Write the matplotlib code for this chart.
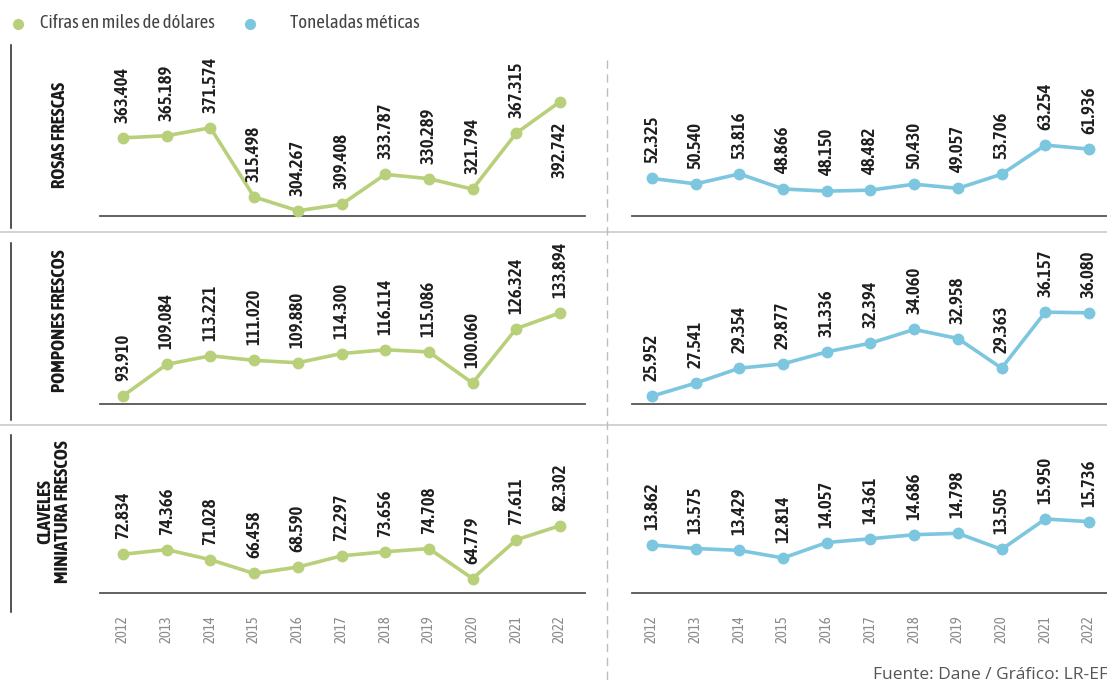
import matplotlib
matplotlib.use("Agg")
import matplotlib.pyplot as plt
from matplotlib.lines import Line2D

# ---- data -------------------------------------------------------------
years = list(range(2012, 2023))

rosas_usd = [363.404, 365.189, 371.574, 315.498, 304.267, 309.408,
             333.787, 330.289, 321.794, 367.315, 392.742]
rosas_ton = [52.325, 50.540, 53.816, 48.866, 48.150, 48.482,
             50.430, 49.057, 53.706, 63.254, 61.936]

pompones_usd = [93.910, 109.084, 113.221, 111.020, 109.880, 114.300,
                116.114, 115.086, 100.060, 126.324, 133.894]
pompones_ton = [25.952, 27.541, 29.354, 29.877, 31.336, 32.394,
                34.060, 32.958, 29.363, 36.157, 36.080]

claveles_usd = [72.834, 74.366, 71.028, 66.458, 68.590, 72.297,
                73.656, 74.708, 64.779, 77.611, 82.302]
claveles_ton = [13.862, 13.575, 13.429, 12.814, 14.057, 14.361,
                14.686, 14.798, 13.505, 15.950, 15.736]

row_names = ["ROSAS FRESCAS", "POMPONES FRESCOS", "CLAVELES\nMINIATURA FRESCOS"]
legend_labels = ["Cifras en miles de dólares", "Toneladas méticas"]
source_text = "Fuente: Dane / Gráfico: LR-EF"

# ---- style ------------------------------------------------------------
GREEN = "#b8d07a"
BLUE = "#7cc6df"
NARROW = ["Asap Condensed", "Archivo Narrow", "DejaVu Sans"]
W, H = 1107, 683

fig = plt.figure(figsize=(W / 100, H / 100), dpi=100)
fig.patch.set_facecolor("white")


def rect(x0, y0, x1, y1):
    """Pixel box (top-left origin) -> figure-fraction rectangle."""
    return [x0 / W, 1 - y1 / H, (x1 - x0) / W, (y1 - y0) / H]


def fig_line(xs, ys, **kw):
    fig.add_artist(Line2D([x / W for x in xs], [1 - y / H for y in ys],
                          transform=fig.transFigure, **kw))


# panel layout: top pixel, baseline pixel, (ymin, px per unit) per column
rows = [
    (40, 216, (300, 1.232), (40, 3.05)),
    (238, 404, (90, 2.076), (25, 8.23)),
    (430, 593, (60, 3.02), (10, 12.44)),
]
series = [(rosas_usd, rosas_ton), (pompones_usd, pompones_ton),
          (claveles_usd, claveles_ton)]
label_centers = [(60, 135), (60, 321), (54, 512)]
# labels drawn beneath their point instead of above: (row, column, index)
below = {(0, 0, 10)}

columns = [
    # x0, x1, x of 2012, x of 2022, colour
    (100, 585, 123, 560, GREEN),
    (632, 1107, 652, 1089, BLUE),
]

for r, (top, base, lim_l, lim_r) in enumerate(rows):
    for c, (x0, x1, xa, xb, color) in enumerate(columns):
        ax = fig.add_axes(rect(x0, top, x1, base))
        step = (xb - xa) / (years[-1] - years[0])
        ax.set_xlim(years[0] - (xa - x0) / step, years[-1] + (x1 - xb) / step)
        ymin, ppu = (lim_l, lim_r)[c]
        ax.set_ylim(ymin, ymin + (base - top) / ppu)
        vals = series[r][c]
        ax.plot(years, vals, color=color, lw=2.6, marker="o", ms=7.5,
                solid_capstyle="round", clip_on=False, zorder=3)
        for i, (yr, v) in enumerate(zip(years, vals)):
            if (r, c, i) in below:
                off, va = -20, "top"
            else:
                off, va = 15, "bottom"
            ax.annotate(f"{v:.3f}", (yr, v), xytext=(0, off),
                        textcoords="offset pixels", rotation=90,
                        ha="center", va=va, fontsize=13.5,
                        fontweight="semibold", family=NARROW,
                        color="#1e1e1e", annotation_clip=False)
        for s in ("top", "right", "left"):
            ax.spines[s].set_visible(False)
        ax.spines["bottom"].set_color("#555555")
        ax.spines["bottom"].set_linewidth(1.3)
        ax.set_yticks([])
        ax.patch.set_alpha(0)
        if r == len(rows) - 1:
            ax.set_xticks(years)
            ax.set_xticklabels([str(y) for y in years], rotation=90,
                               family=NARROW, fontsize=10.5, color="#8a8a8a")
            ax.tick_params(axis="x", length=0, pad=16)
        else:
            ax.set_xticks([])

    # row title and left rule
    cx, cy = label_centers[r]
    fig.text(cx / W, 1 - cy / H, row_names[r], rotation=90, ha="center",
             va="center", multialignment="center", fontsize=13.5,
             fontweight="bold", family=NARROW, color="#1a1a1a",
             linespacing=1.0)
    fig_line([11, 11], [top + 5, top + 188 if r == 0 else top + 182],
             color="#222222", lw=1.1)

# separators between rows
for y in (232, 425):
    fig_line([0, W], [y, y], color="#cfcfcf", lw=1.3)

# dashed divider between the two columns
fig_line([607, 607], [60, H], color="#bdbdbd", lw=1.0, dashes=(6, 4))

# legend
for (x_dot, x_txt), col, txt in zip([(18, 40), (250, 290)], [GREEN, BLUE],
                                     legend_labels):
    fig.add_artist(Line2D([x_dot / W], [1 - 24 / H], marker="o", ms=7,
                          color=col, lw=0, transform=fig.transFigure))
    fig.text(x_txt / W, 1 - 23 / H, txt, ha="left", va="center",
             fontsize=13.5, family=NARROW, color="#444444")

# source credit
fig.text(873 / W, 1 - 675 / H, source_text, ha="left", va="center",
         fontsize=12.5, family=["Open Sans", "DejaVu Sans"], color="#555555")

fig.savefig("out.png", dpi=100, facecolor="white")
